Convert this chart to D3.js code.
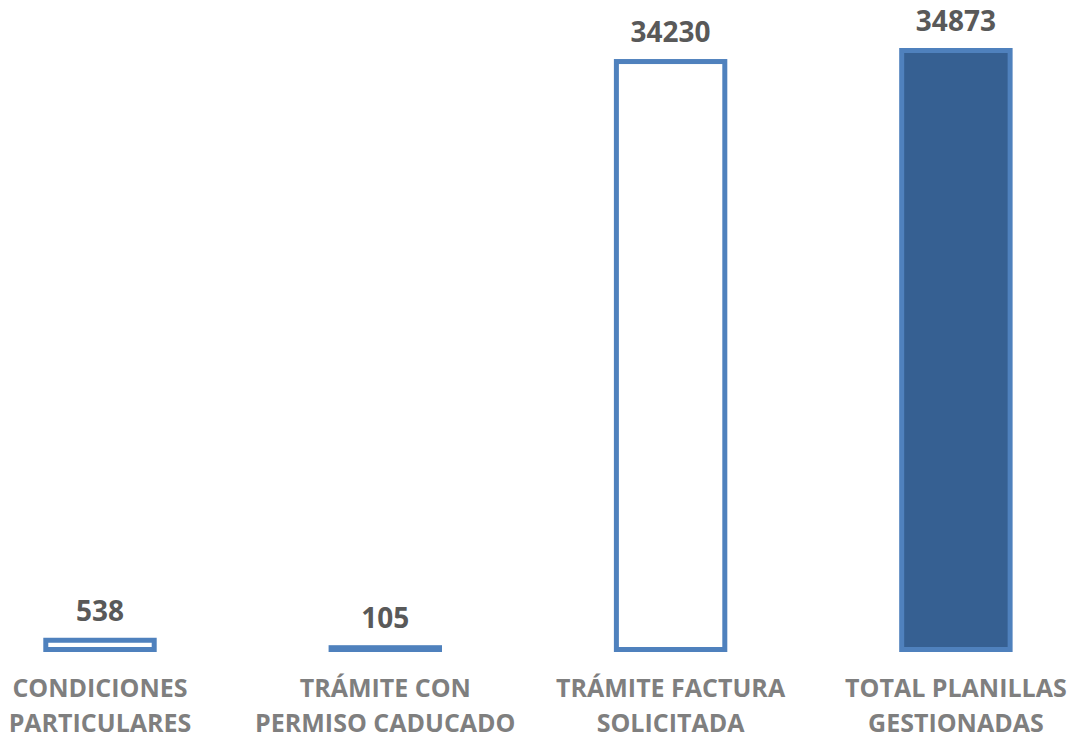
<!DOCTYPE html>
<html>
<head>
<meta charset="utf-8">
<script src="https://cdn.jsdelivr.net/npm/d3@7"></script>
<style>
  body { margin: 0; background: #fff; }
  text { font-family: 'Open Sans', sans-serif; font-weight: bold; }
</style>
</head>
<body>
<div class="visContainer"></div>
<script>
// Data.
const categories = ['CONDICIONES PARTICULARES', 'TRÁMITE CON PERMISO CADUCADO', 'TRÁMITE FACTURA SOLICITADA', 'TOTAL PLANILLAS GESTIONADAS'];
const labelLines = [['CONDICIONES', 'PARTICULARES'], ['TRÁMITE CON', 'PERMISO CADUCADO'], ['TRÁMITE FACTURA', 'SOLICITADA'], ['TOTAL PLANILLAS', 'GESTIONADAS']];
const values = [538, 105, 34230, 34873];
const filled = [false, false, false, true];

// SVG constants.
const width = 1069;
const height = 737;

const svg = d3.select('.visContainer')
              .append('svg')
              .attr('width', width)
              .attr('height', height);

// Scales.
const x = d3.scaleBand()
            .domain(categories)
            .range([-42.65, 1098.55])
            .paddingInner(0.62)
            .paddingOuter(0.31);

const y = d3.scaleLinear()
            .domain([0, 34873])
            .range([649.5, 50.5]);

// Bars.
svg.selectAll('rect.bar')
   .data(categories)
   .enter()
   .append('rect')
   .attr('class', 'bar')
   .attr('x', (d) => x(d))
   .attr('y', (d, i) => y(values[i]))
   .attr('width', x.bandwidth())
   .attr('height', (d, i) => y(0) - y(values[i]))
   .attr('fill', (d, i) => filled[i] ? '#366092' : '#ffffff')
   .attr('stroke', '#4f81bd')
   .attr('stroke-width', 5);

// Value labels.
svg.selectAll('text.value')
   .data(categories)
   .enter()
   .append('text')
   .attr('class', 'value')
   .attr('x', (d) => x(d) + x.bandwidth() / 2)
   .attr('y', (d, i) => y(values[i]) - 19.5)
   .attr('text-anchor', 'middle')
   .attr('fill', '#595959')
   .style('font-size', '28px')
   .text((d, i) => values[i]);

// Category labels.
const cat = svg.selectAll('text.cat')
               .data(categories)
               .enter()
               .append('text')
               .attr('class', 'cat')
               .attr('text-anchor', 'middle')
               .attr('fill', '#7f7f7f')
               .style('font-size', '25px');

cat.selectAll('tspan')
   .data((d, i) => labelLines[i].map((t) => ({ t: t, c: d })))
   .enter()
   .append('tspan')
   .attr('x', (d) => x(d.c) + x.bandwidth() / 2)
   .attr('y', (d, i) => 697 + i * 34.5)
   .text((d) => d.t);
</script>
</body>
</html>
